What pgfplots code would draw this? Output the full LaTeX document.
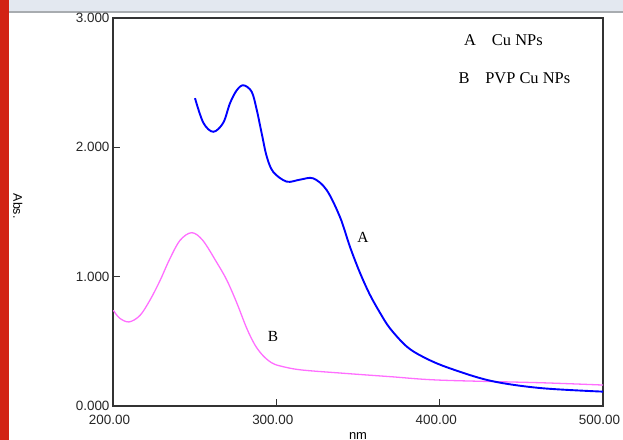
\documentclass[border=0pt]{standalone}
\usepackage{fontspec}
\setmainfont{Liberation Serif}
\setsansfont{Liberation Sans}
\usepackage{pgfplots}
\pgfplotsset{compat=1.18}
\definecolor{redbar}{HTML}{D22214}
\definecolor{topbar}{HTML}{E3E8F0}
\definecolor{topline}{HTML}{A8ACB0}
\definecolor{curveA}{RGB}{0,0,255}
\definecolor{curveB}{RGB}{255,110,255}

\begin{document}
\begin{tikzpicture}[x=1bp,y=1bp]
\useasboundingbox (0,0) rectangle (623,440);
\fill[redbar] (0,0) rectangle (9,440);
\fill[topbar] (9,429) rectangle (623,440);
\fill[topline] (9,427) rectangle (623,429);
\begin{axis}[
  at={(113bp,34bp)}, anchor=south west,
  scale only axis, width=490bp, height=388bp,
  xmin=200, xmax=500, ymin=0, ymax=3,
  xtick={200,300,400,500}, xticklabels={200.00,300.00,400.00,500.00},
  ytick={0,1,2,3}, yticklabels={0.000,1.000,2.000,3.000},
  xtick pos=bottom, ytick pos=left,
  tick align=inside, major tick length=7bp,
  axis line style={black!80, line width=1.6bp},
  tick style={black!80, line width=1bp},
  tick label style={font=\fontsize{13.5}{15}\sffamily, text=black!85},
  xticklabel style={xshift=-3.5bp, yshift=-6bp},
  xlabel={nm}, xlabel style={font=\fontsize{13}{15}\sffamily, at={(axis description cs:0.5,0)}, anchor=base, yshift=-34bp},
  ylabel={Abs.}, ylabel style={font=\fontsize{12.5}{15}\sffamily, at={(axis description cs:-0.194,0.515)}, anchor=center, rotate=180},
  clip=false]
\addplot[curveB, line width=1.3bp, smooth, tension=0.55] coordinates {
  (200.2,0.74) (204,0.68) (209.8,0.65) (216.5,0.70) (222.7,0.82) (228.8,0.97)
  (234.5,1.13) (241,1.28) (248.2,1.34) (255,1.28) (263.5,1.11) (269.6,0.975)
  (275.7,0.80) (281.9,0.60) (287,0.47) (291.8,0.39) (297,0.335) (302.2,0.31) (314.5,0.28)
  (339,0.255) (369.6,0.227) (400.2,0.20) (461.4,0.18) (500,0.162)};
\addplot[curveA, line width=1.9bp, smooth, tension=0.55] coordinates {
  (250.2,2.38) (255.3,2.19) (261.4,2.12) (267.5,2.19) (271.6,2.34) (275.7,2.44)
  (279.8,2.48) (284.9,2.43) (288.0,2.29) (291.0,2.11) (294.1,1.93) (298.1,1.81)
  (306.3,1.735) (314.5,1.75) (322.6,1.76) (330.8,1.67) (339.0,1.46) (345.1,1.23)
  (351.2,1.03) (357.3,0.86) (363.5,0.72) (369.6,0.60) (379.8,0.46) (389.8,0.38)
  (404.3,0.30) (430.8,0.196) (461.4,0.139) (500,0.111)};
\node[font=\fontsize{16.5}{18}\selectfont] at (axis cs:418.6,2.83) {A};
\node[font=\fontsize{16.5}{18}\selectfont, anchor=west, inner sep=0pt] at (axis cs:431.9,2.83) {Cu NPs};
\node[font=\fontsize{16.5}{18}\selectfont] at (axis cs:414.9,2.536) {B};
\node[font=\fontsize{16.5}{18}\selectfont, anchor=west, inner sep=0pt] at (axis cs:427.8,2.536) {PVP Cu NPs};
\node[font=\fontsize{15.5}{17}\selectfont] at (axis cs:353.1,1.30) {A};
\node[font=\fontsize{15.5}{17}\selectfont] at (axis cs:298.0,0.534) {B};
\end{axis}
\end{tikzpicture}
\end{document}
